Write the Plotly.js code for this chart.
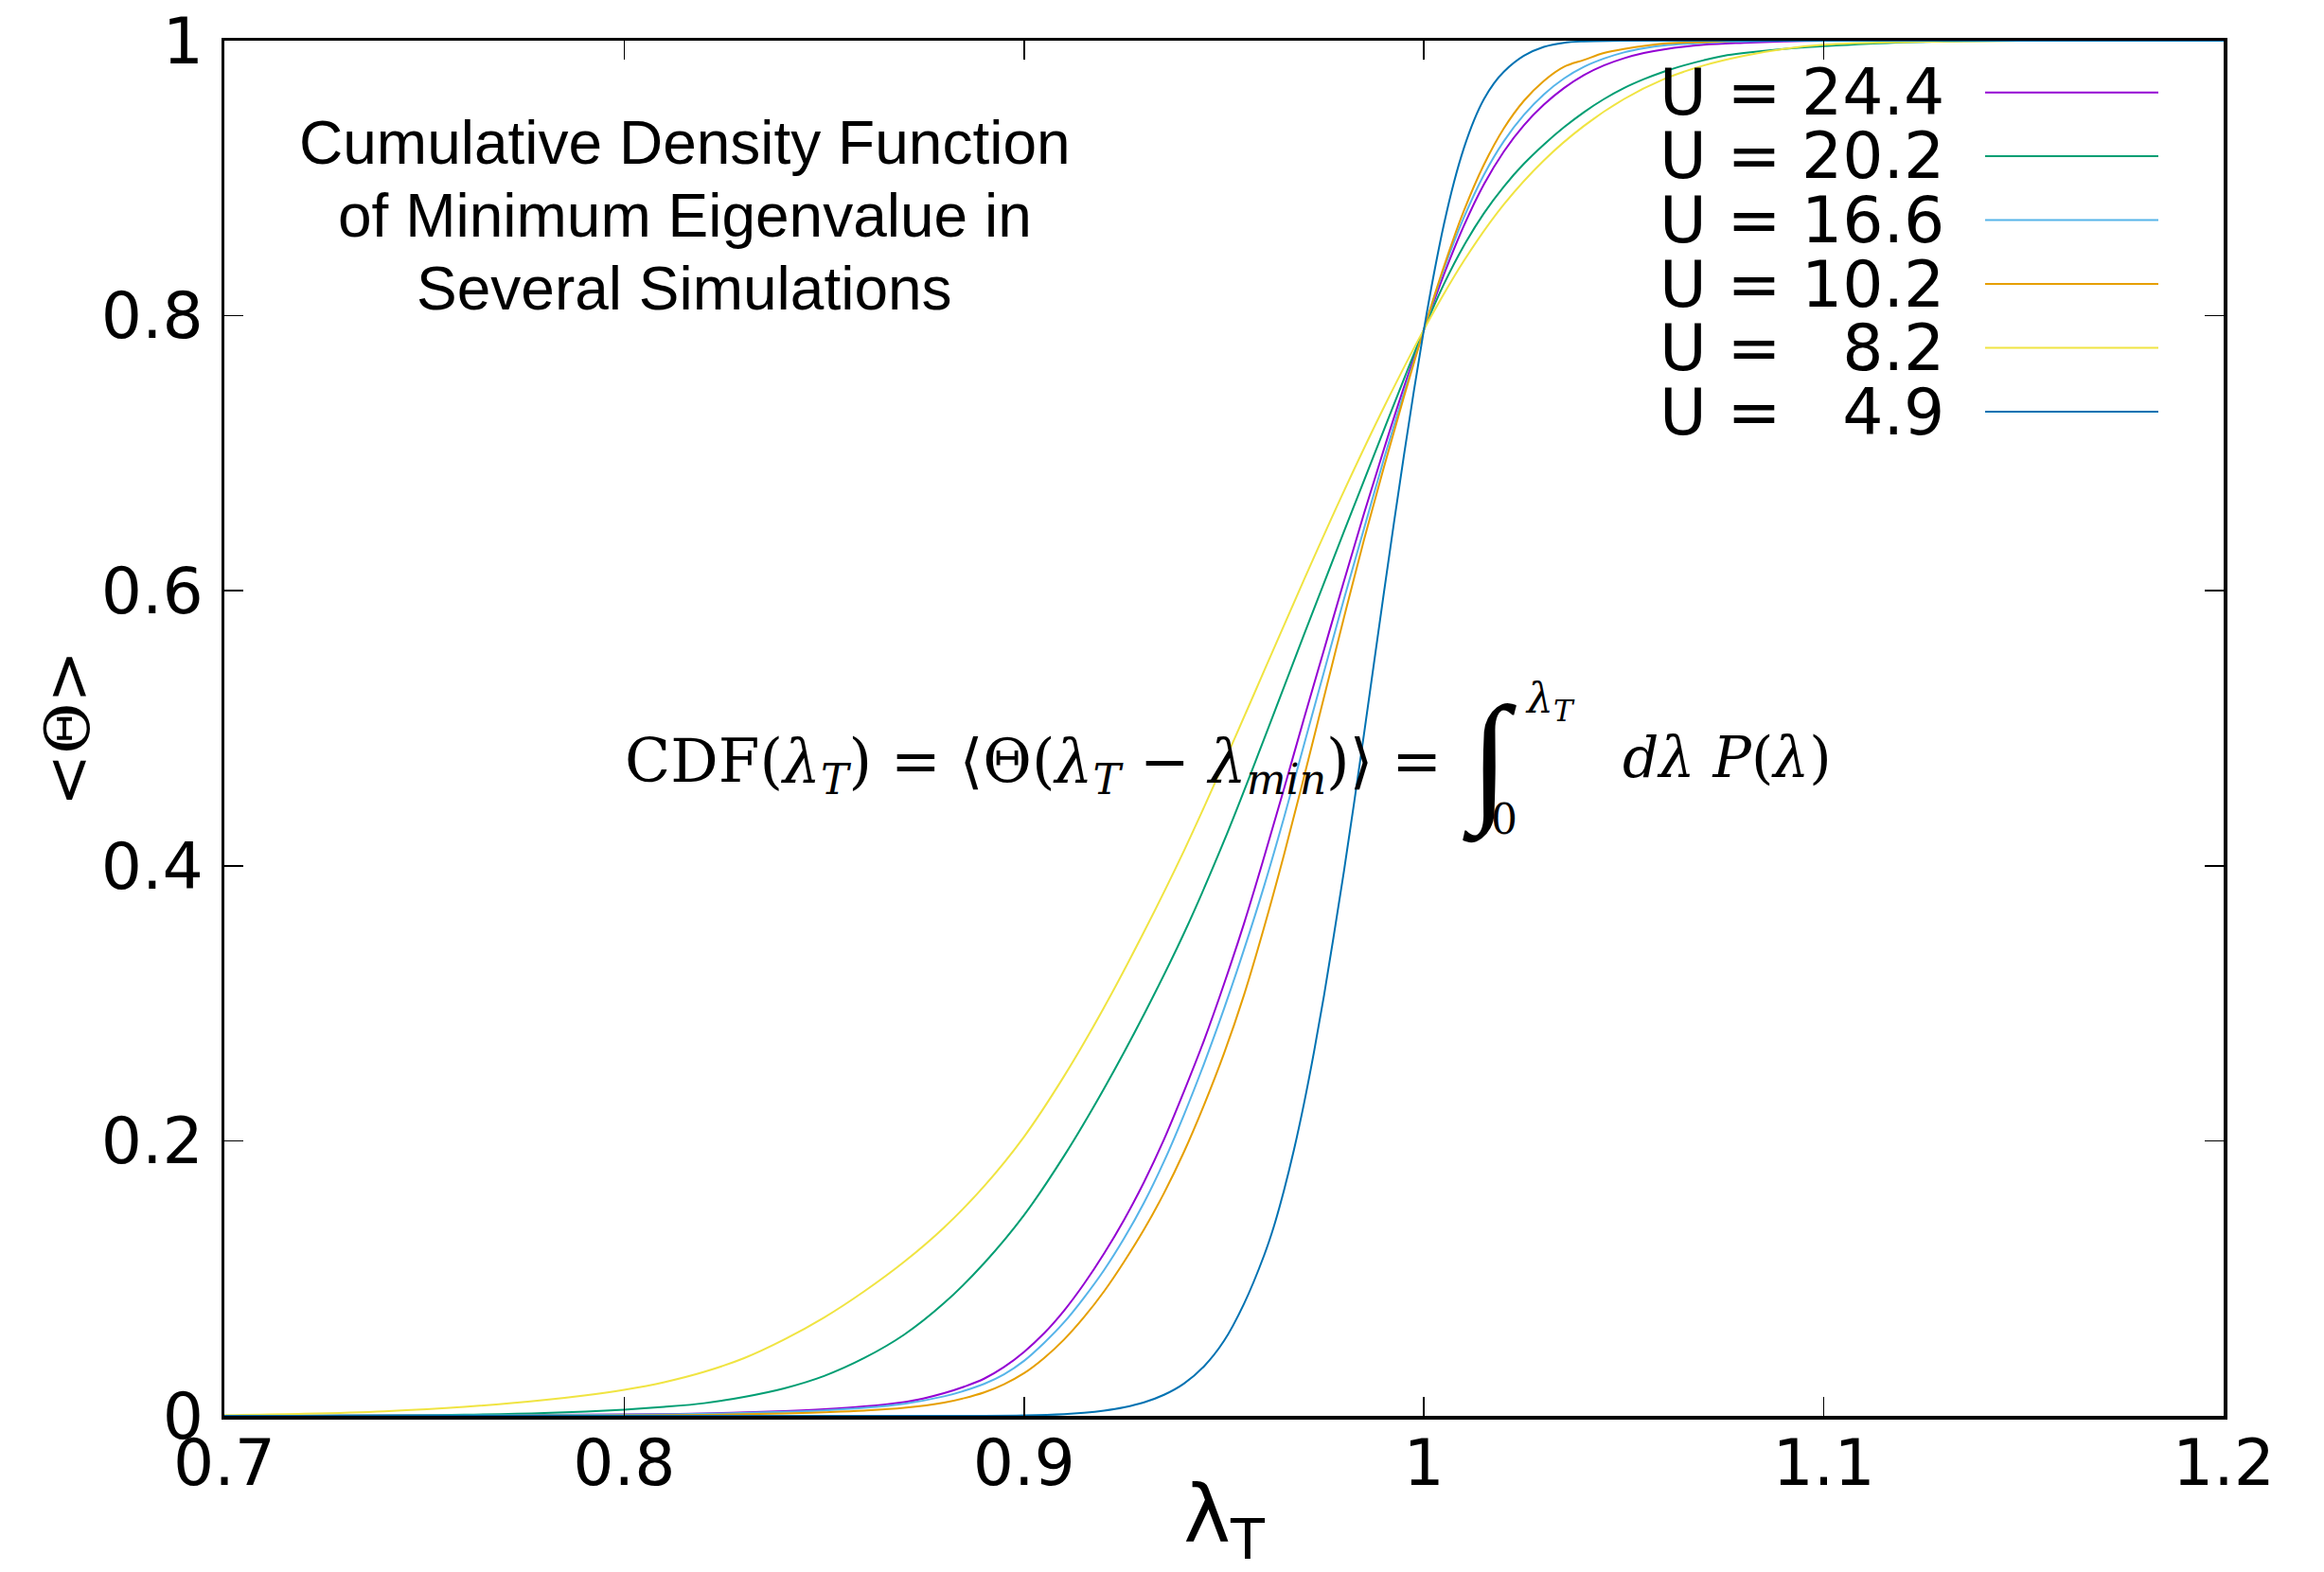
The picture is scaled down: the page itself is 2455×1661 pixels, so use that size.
<!DOCTYPE html>
<html><head><meta charset="utf-8">
<script src="https://cdn.plot.ly/plotly-3.0.1.min.js"></script>
<style>html,body{margin:0;padding:0;background:#fff;} #chart{width:2455px;height:1661px;}</style>
</head><body><div id="chart"></div>
<script>
// ---- data ----
const seriesNames = ['U = 24.4', 'U = 20.2', 'U = 16.6', 'U = 10.2', 'U =\u00a0\u00a0\u00a08.2', 'U =\u00a0\u00a0\u00a04.9'];
const lineColors = ['#9400d3', '#009e73', '#56b4e9', '#e69f00', '#f0e442', '#0072b2'];

const lamU244 = [0.70,0.75,0.80,0.82,0.84,0.85,0.86,0.87,0.875,0.88,0.885,0.89,0.895,0.90,0.905,0.91,0.915,0.92,0.925,0.93,0.935,0.94,0.945,0.95,0.955,0.96,0.965,0.97,0.975,0.98,0.985,0.99,0.995,1.00,1.005,1.01,1.015,1.02,1.025,1.03,1.035,1.04,1.045,1.05,1.055,1.06,1.07,1.08,1.09,1.10,1.20];
const cdfU244 = [0,0.0003,0.001,0.0018,0.0035,0.0048,0.0068,0.0100,0.0128,0.0165,0.0212,0.027,0.0355,0.0465,0.060,0.0765,0.096,0.118,0.1425,0.170,0.201,0.236,0.273,0.314,0.358,0.406,0.456,0.507,0.557,0.607,0.656,0.703,0.748,0.790,0.830,0.8655,0.8955,0.9195,0.9385,0.9535,0.9655,0.975,0.982,0.9872,0.991,0.9937,0.997,0.9985,0.9995,1.0,1.0];

const lamU202 = [0.70,0.74,0.76,0.78,0.80,0.81,0.82,0.83,0.84,0.85,0.86,0.87,0.88,0.89,0.90,0.91,0.92,0.93,0.94,0.95,0.96,0.97,0.98,0.99,1.00,1.005,1.01,1.015,1.02,1.025,1.03,1.035,1.04,1.045,1.05,1.055,1.06,1.065,1.07,1.075,1.08,1.09,1.10,1.12,1.15,1.20];
const cdfU202 = [0,0.0003,0.0008,0.002,0.0045,0.0065,0.0092,0.0138,0.020,0.029,0.042,0.059,0.082,0.111,0.146,0.189,0.238,0.292,0.351,0.418,0.492,0.568,0.643,0.717,0.790,0.823,0.851,0.8745,0.894,0.9105,0.9245,0.937,0.948,0.9575,0.9655,0.972,0.9775,0.982,0.9858,0.989,0.991,0.994,0.996,0.9988,1.0,1.0];

const lamU166 = [0.70,0.75,0.80,0.82,0.84,0.85,0.86,0.87,0.88,0.885,0.89,0.895,0.90,0.905,0.91,0.915,0.92,0.925,0.93,0.935,0.94,0.945,0.95,0.955,0.96,0.965,0.97,0.975,0.98,0.985,0.99,0.995,1.00,1.005,1.01,1.015,1.02,1.025,1.03,1.035,1.04,1.045,1.05,1.055,1.06,1.07,1.08,1.09,1.20];
const cdfU166 = [0,0.0002,0.0008,0.0015,0.0029,0.0040,0.0058,0.0088,0.0142,0.0182,0.0232,0.0302,0.040,0.053,0.068,0.086,0.106,0.129,0.155,0.185,0.219,0.256,0.296,0.339,0.385,0.435,0.488,0.541,0.594,0.645,0.696,0.744,0.790,0.834,0.8715,0.9025,0.927,0.946,0.961,0.9725,0.981,0.987,0.9915,0.9945,0.9965,0.9985,0.9995,1.0,1.0];

const lamU102 = [0.70,0.78,0.80,0.82,0.84,0.85,0.86,0.87,0.88,0.885,0.89,0.895,0.90,0.905,0.91,0.915,0.92,0.925,0.93,0.935,0.94,0.945,0.95,0.955,0.96,0.965,0.97,0.975,0.98,0.985,0.99,0.995,1.00,1.005,1.01,1.015,1.02,1.025,1.03,1.035,1.04,1.045,1.05,1.06,1.07,1.08,1.20];
const cdfU102 = [0,0.0001,0.0003,0.0007,0.0017,0.0026,0.0038,0.0058,0.0096,0.0128,0.017,0.023,0.031,0.042,0.0555,0.0718,0.0905,0.112,0.1355,0.162,0.192,0.226,0.2635,0.306,0.355,0.408,0.4645,0.5225,0.5805,0.637,0.690,0.741,0.790,0.8358,0.8763,0.9098,0.9363,0.9563,0.9708,0.981,0.986,0.991,0.994,0.998,0.999,1.0,1.0];

const lamU82 = [0.70,0.72,0.74,0.76,0.78,0.79,0.80,0.81,0.82,0.83,0.84,0.85,0.86,0.87,0.88,0.89,0.90,0.91,0.92,0.93,0.94,0.95,0.96,0.97,0.98,0.99,1.00,1.01,1.02,1.03,1.04,1.05,1.06,1.07,1.08,1.09,1.10,1.12,1.15,1.20];
const cdfU82 = [0.0005,0.0015,0.0033,0.0065,0.0115,0.0148,0.019,0.0245,0.032,0.042,0.0555,0.0715,0.0905,0.112,0.137,0.167,0.203,0.247,0.297,0.352,0.411,0.475,0.5415,0.608,0.6725,0.7335,0.790,0.840,0.881,0.913,0.938,0.9575,0.972,0.982,0.989,0.994,0.997,0.999,1.0,1.0];

const lamU49 = [0.70,0.89,0.90,0.91,0.915,0.92,0.925,0.93,0.935,0.94,0.945,0.95,0.955,0.96,0.9625,0.965,0.9675,0.97,0.9725,0.975,0.9775,0.98,0.9825,0.985,0.9875,0.99,0.9925,0.995,0.9975,1.00,1.0025,1.005,1.0075,1.01,1.0125,1.015,1.0175,1.02,1.025,1.03,1.035,1.04,1.05,1.20];
const cdfU49 = [0,0,0.0003,0.0012,0.0022,0.0038,0.0062,0.0098,0.0153,0.0235,0.036,0.0545,0.0815,0.1165,0.138,0.164,0.1935,0.227,0.2645,0.3055,0.350,0.3962,0.445,0.4956,0.5472,0.5988,0.6494,0.6985,0.7456,0.790,0.8305,0.8665,0.897,0.922,0.942,0.9575,0.969,0.9775,0.989,0.9955,0.9985,0.9995,1.0,1.0];

const xTickVals = [0.7, 0.8, 0.9, 1.0, 1.1, 1.2];
const xTickText = ['0.7', '0.8', '0.9', '1', '1.1', '1.2'];
const yTickVals = [0, 0.2, 0.4, 0.6, 0.8, 1];
const yTickText = ['0', '0.2', '0.4', '0.6', '0.8', '1'];

const titleLines = ['Cumulative Density Function', 'of Minimum Eigenvalue in', 'Several Simulations'];

// ---- layout geometry ----
const W = 2455, H = 1661, ML = 237, MR = 106, MT = 43, MB = 165;
const PW = W - ML - MR, PH = H - MT - MB;
const px2x = px => (px - ML) / PW;
const py2y = py => (H - MB - py) / PH;

const lamArrays = [lamU244, lamU202, lamU166, lamU102, lamU82, lamU49];
const cdfArrays = [cdfU244, cdfU202, cdfU166, cdfU102, cdfU82, cdfU49];

const traces = lamArrays.map((lx, i) => ({
  x: lx, y: cdfArrays[i], type: 'scatter', mode: 'lines', name: seriesNames[i],
  line: { color: lineColors[i], width: 2, shape: 'spline', smoothing: 1 },
  showlegend: false, hoverinfo: 'skip'
}));

const annotations = [];
const shapes = [];

// manual legend (text left, line sample right, as in gnuplot)
const legendRowsPx = [97.7, 165, 232.5, 300, 367.5, 435];
seriesNames.forEach((nm, i) => {
  annotations.push({
    xref: 'paper', yref: 'paper', x: px2x(2056), y: py2y(legendRowsPx[i]),
    xanchor: 'right', yanchor: 'middle', showarrow: false, text: nm,
    font: { family: 'DejaVu Sans', size: 68, color: '#000' }
  });
  shapes.push({
    type: 'line', xref: 'paper', yref: 'paper',
    x0: px2x(2097), x1: px2x(2280), y0: py2y(legendRowsPx[i]), y1: py2y(legendRowsPx[i]),
    line: { color: lineColors[i], width: 2 }
  });
});

// title block
const titleRowsPx = [151.5, 228, 305];
titleLines.forEach((t, i) => {
  annotations.push({
    xref: 'paper', yref: 'paper', x: px2x(723), y: py2y(titleRowsPx[i]),
    xanchor: 'center', yanchor: 'middle', showarrow: false, text: t,
    font: { family: 'Liberation Sans', size: 64, color: '#000' }
  });
});

// y axis title (rotated)
annotations.push({
  xref: 'paper', yref: 'paper', x: px2x(72), y: py2y(770),
  xanchor: 'center', yanchor: 'middle', showarrow: false, textangle: -90,
  text: '&lt;<span style="font-family:\'DejaVu Serif\'">Θ</span>&gt;',
  font: { family: 'DejaVu Sans', size: 66, color: '#000' }
});

// formula
const fFont = 'DejaVu Serif';
annotations.push({
  xref: 'paper', yref: 'paper', x: px2x(658), y: py2y(808),
  xanchor: 'left', yanchor: 'middle', showarrow: false,
  text: 'CDF(<i>λ</i><sub><i>T</i></sub>) = ⟨Θ(<i>λ</i><sub><i>T</i></sub> − <i>λ</i><sub><i>min</i></sub>)⟩ =',
  font: { family: fFont, size: 63, color: '#000' }
});
annotations.push({
  xref: 'paper', yref: 'paper', x: px2x(1573), y: py2y(803),
  xanchor: 'center', yanchor: 'middle', showarrow: false, text: '∫',
  font: { family: 'Liberation Serif', size: 150, color: '#000' }
});
annotations.push({
  xref: 'paper', yref: 'paper', x: px2x(1609), y: py2y(740),
  xanchor: 'left', yanchor: 'middle', showarrow: false, text: '<i>λ</i><sub><i>T</i></sub>',
  font: { family: fFont, size: 44, color: '#000' }
});
annotations.push({
  xref: 'paper', yref: 'paper', x: px2x(1589), y: py2y(865),
  xanchor: 'center', yanchor: 'middle', showarrow: false, text: '0',
  font: { family: fFont, size: 44, color: '#000' }
});
annotations.push({
  xref: 'paper', yref: 'paper', x: px2x(1712), y: py2y(800),
  xanchor: 'left', yanchor: 'middle', showarrow: false,
  text: '<i>dλ P</i>(<i>λ</i>)',
  font: { family: fFont, size: 60, color: '#000' }
});

const axisCommon = {
  ticks: 'inside', ticklen: 20, tickwidth: 1.5, tickcolor: '#000',
  showline: true, linecolor: '#000', linewidth: 3.5, mirror: 'ticks',
  showgrid: false, zeroline: false, automargin: false,
  tickfont: { family: 'DejaVu Sans', size: 68, color: '#000' }
};

const layout = {
  width: W, height: H, autosize: false,
  margin: { l: ML, r: MR, t: MT, b: MB, pad: 0 },
  paper_bgcolor: '#fff', plot_bgcolor: '#fff',
  showlegend: false,
  xaxis: Object.assign({}, axisCommon, {
    range: [0.7, 1.2], tickmode: 'array', tickvals: xTickVals, ticktext: xTickText,
    ticklabelstandoff: -12,
    title: { text: 'λ<sub>T</sub>', font: { family: 'DejaVu Sans', size: 84, color: '#000' }, standoff: 42 }
  }),
  yaxis: Object.assign({}, axisCommon, {
    range: [0, 1], tickmode: 'array', tickvals: yTickVals, ticktext: yTickText,
    ticklabelstandoff: 5
  }),
  annotations: annotations,
  shapes: shapes
};

Plotly.newPlot('chart', traces, layout, { staticPlot: true, displayModeBar: false });
</script>
</body></html>
